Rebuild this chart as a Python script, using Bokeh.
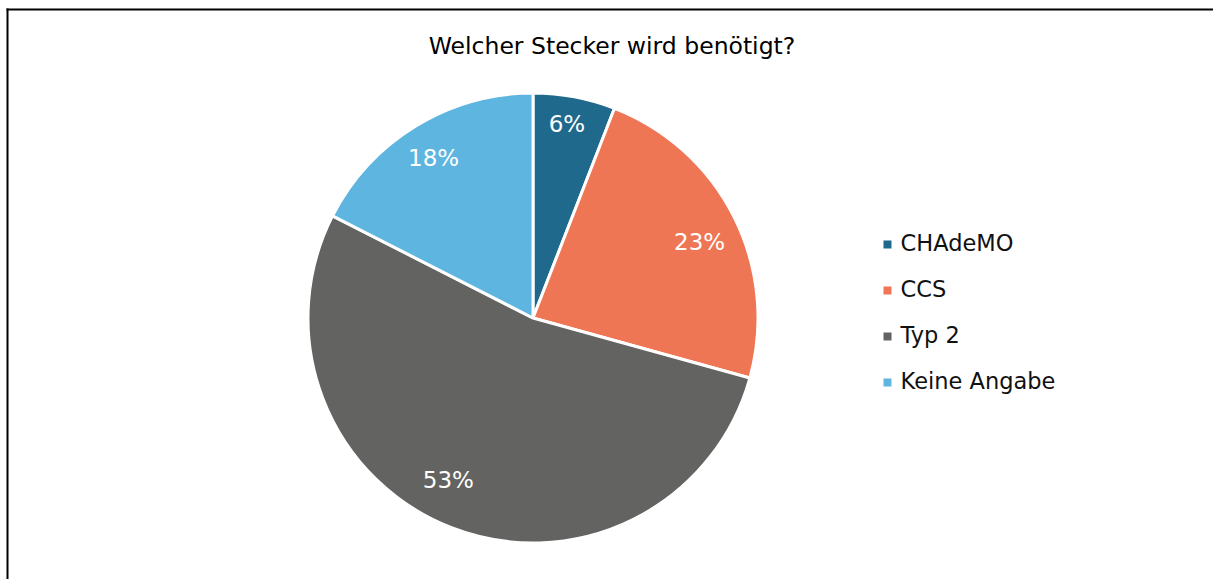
import numpy as np
from bokeh.plotting import figure
from bokeh.models import ColumnDataSource, Range1d
from bokeh.core.properties import value
from bokeh.embed import file_html
from bokeh.resources import INLINE

title = "Welcher Stecker wird benötigt?"
categories = ["CHAdeMO", "CCS", "Typ 2", "Keine Angabe"]
shares = [5.9, 23.4, 53.2, 17.5]
labels = ["6%", "23%", "53%", "18%"]
colors = ["#1F6A8C", "#EE7655", "#636361", "#5EB5DF"]

W, H = 1213, 579
FONT = "DejaVu Sans"

p = figure(width=W, height=H, output_backend="svg", toolbar_location=None,
           x_range=Range1d(0, W), y_range=Range1d(0, H), min_border=0)
p.axis.visible = False
p.grid.visible = False
p.outline_line_color = None
p.background_fill_color = "white"
p.border_fill_color = "white"

def Y(py):
    return H - py

# pie
cx, cy, r = 532.5, Y(317.5), 225
vals = np.array(shares, dtype=float)
frac = vals / vals.sum()
cum = np.concatenate([[0], np.cumsum(frac)])
start = np.pi / 2 - 2 * np.pi * cum[:-1]
end = np.pi / 2 - 2 * np.pi * cum[1:]
mid = (start + end) / 2
src = ColumnDataSource(dict(start=start, end=end, color=colors, cat=categories))
p.wedge(x=cx, y=cy, radius=r, start_angle="start", end_angle="end",
        direction="clock", fill_color="color", line_color="white",
        line_width=3, source=src)

# percentage labels (best-fit placement nudges, as in the original)
label_radius = np.array([197, 183, 183, 188])
label_nudge = np.radians([0.7, -2.2, -6.3, 0.4])
ang = mid + label_nudge
lab = ColumnDataSource(dict(
    x=cx + label_radius * np.cos(ang), y=cy + label_radius * np.sin(ang), t=labels))
p.text(x="x", y="y", text="t", source=lab, text_color="white",
       text_font=value(FONT), text_font_size="23px",
       text_align="center", text_baseline="middle")

# title
p.text(x=[611.5], y=[Y(45.5)], text=[title], text_color="black",
       text_font=value(FONT), text_font_size="23.5px",
       text_align="center", text_baseline="middle")

# legend
rows = 242.5 + 46 * np.arange(4)
lsrc = ColumnDataSource(dict(x=[887] * 4, y=Y(rows + 1.5), color=colors,
                             cat=categories, tx=[900] * 4, ty=Y(rows)))
p.scatter(x="x", y="y", marker="square", size=8, fill_color="color",
          line_color=None, source=lsrc)
p.text(x="tx", y="ty", text="cat", source=lsrc, text_color="#111111",
       text_font=value(FONT), text_font_size="22.5px",
       text_align="left", text_baseline="middle")

# chart border (left/top visible)
p.segment(x0=[7, 6], y0=[Y(8), Y(9)], x1=[7, W], y1=[0, Y(9)],
          line_color="black", line_width=2)

open("out.html", "w").write(file_html(p, INLINE))
